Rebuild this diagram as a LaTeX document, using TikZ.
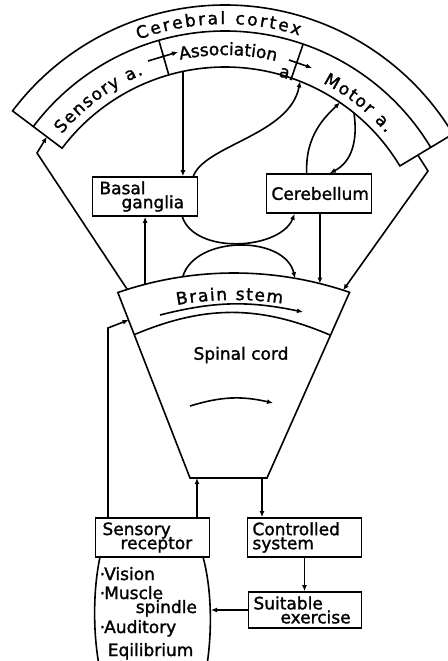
\documentclass[tikz,border=0pt]{standalone}
\usepackage{fontspec}
\setmainfont{DejaVu Sans}[FakeBold=1.5]
\usetikzlibrary{arrows.meta,calc,decorations.text}
\newcommand{\labfont}{\fontsize{17}{14}\selectfont\lineskiplimit=-20pt\relax}
\newcommand{\arcfont}{\fontsize{17}{14}\selectfont}
\tikzset{
  blk/.style={draw, inner xsep=5pt, inner ysep=0pt, minimum height=39pt, align=left, font=\labfont},
  conn/.style={-{Latex[length=6pt,width=5pt]}},
  curvtext/.style={decorate, decoration={text along path, text align={fit to path}, text={#1}}},
  item/.style={anchor=base west, inner sep=0pt, font=\labfont}
}

\begin{document}
\begin{tikzpicture}[x=1pt,y=1pt,line width=1.6pt]
\useasboundingbox (0,0) rectangle (447,-661);
% cerebral cortex
\coordinate (cc) at (225,-271);
\draw ($(cc)+(143:266)$) arc[start angle=143,end angle=31,radius=266]
  -- ($(cc)+(31:204)$) arc[start angle=31,end angle=143,radius=204] -- cycle;
\draw ($(cc)+(143:240)$) arc[start angle=143,end angle=31,radius=240];
\draw ($(cc)+(106:204)$) -- ($(cc)+(106:240)$);
\draw ($(cc)+(71:204)$) -- ($(cc)+(71:240)$);
\path[curvtext={|\arcfont|Cerebral cortex}] ($(cc)+(110.5:247)$) arc[start angle=110.5,end angle=72.5,radius=247];
\path[curvtext={|\arcfont|Sensory a.}] ($(cc)+(140:213)$) arc[start angle=140,end angle=112.5,radius=213];
\path[curvtext={|\arcfont|Association}] ($(cc)+(102:216)$) arc[start angle=102,end angle=77,radius=216];
\path[curvtext={|\arcfont|Motor a.}] ($(cc)+(62.5:212)$) arc[start angle=62.5,end angle=40.5,radius=212];
\node[font=\labfont,rotate=-17,inner sep=0pt] (asa) at (287,-74) {a.};
\coordinate (sa1) at (148,-61);
\coordinate (sa2) at (178,-52);
\coordinate (ma1) at (289,-60);
\coordinate (ma2) at (312,-68);
\draw[conn] (sa1) -- (sa2);
\draw[conn] (ma1) -- (ma2);
\coordinate (assocout) at ($(cc)+(101.9:204)$);
\coordinate (motorin) at ($(cc)+(68.4:204)$);
\coordinate (motorin2) at ($(cc)+(55.7:204)$);
\coordinate (motorout) at ($(cc)+(50.8:204)$);
\coordinate (sensin) at ($(cc)+(143:223)$);
\coordinate (motorend) at ($(cc)+(31:225)$);
% brain stem and spinal cord
\coordinate (bc) at (234,-628);
\coordinate (bsl) at ($(bc)+(109.1:355)$);
\coordinate (bsr) at ($(bc)+(71:355)$);
\coordinate (spl) at (190,-478);
\coordinate (spr) at (267,-478);
\draw (bsl) arc[start angle=109.1,end angle=71,radius=355] -- (spr) -- (spl) -- cycle;
\coordinate (stl) at ($(bsl)!0.227!(spl)$);
\coordinate (str) at ($(bsr)!0.231!(spr)$);
\draw (stl) to[bend left=23] (str);
\path[curvtext={|\arcfont|Brain stem}] ($(bc)+(100:328)$) arc[start angle=100,end angle=81.5,radius=328];
\node[font=\labfont] (spinal) at (241,-355) {Spinal cord};
\coordinate (bsa1) at (160,-315);
\coordinate (bsa2) at (303,-312);
\draw[conn] (bsa1) to[bend left=13] (bsa2);
\coordinate (spa1) at (190,-406);
\coordinate (spa2) at (273,-403);
\draw[conn] (spa1) to[bend left=15] (spa2);
\coordinate (btsens) at ($(bc)+(107.5:355)$);
\coordinate (btbas) at ($(bc)+(104.5:355)$);
\coordinate (bthl) at ($(bc)+(98.3:355)$);
\coordinate (bthr) at ($(bc)+(80.1:355)$);
\coordinate (btcer) at ($(bc)+(76:355)$);
\coordinate (btmot) at ($(bc)+(72.1:355)$);
\coordinate (sside) at ($(bsl)!0.148!(spl)$);
\coordinate (spinin) at (197,-478);
\coordinate (spinout) at (262,-478);
% boxes
\node[blk,text width=95pt] (basal) at (145,-196.5) {\hspace*{2pt}Basal\\\hspace*{24pt}ganglia};
\node[blk,text width=95pt,align=center] (cereb) at (319,-193.5) {Cerebellum};
\node[blk,text width=104pt] (srec) at (152.5,-537.5) {\hspace*{2pt}Sensory\\\hspace*{20pt}receptor};
\node[blk,text width=104pt] (ctrl) at (304.5,-537.5) {Controlled\\system};
\node[blk,text width=103pt,minimum height=36pt] (suit) at (305,-610) {Suitable\\\hspace*{27pt}exercise};
% receptor list
\coordinate (lc1) at (100,-557);
\coordinate (lc2) at (99,-665);
\coordinate (rc1) at (203,-557);
\coordinate (rc2) at (207,-665);
\draw (lc1) .. controls (93,-590) and (93,-632) .. (lc2);
\draw (rc1) .. controls (212,-590) and (212,-632) .. (rc2);
\coordinate (listr) at (211,-610);
\node[item] (vis) at (99,-580) {·\kern-1pt Vision};
\node[item] (mus) at (99,-599) {·\kern-1pt Muscle};
\node[item] (spi) at (135,-613) {spindle};
\node[item] (aud) at (99,-633) {·\kern-1pt Auditory};
\node[item] (eqi) at (107,-656) {Eqilibrium};
% connectors
\coordinate (lbend) at (37,-153);
\coordinate (rbend) at (428,-171);
\coordinate (slbend) at (108,-328);
\draw[conn] (btsens) -- (lbend) -- (sensin);
\draw[conn] (motorend) -- (rbend) -- (btmot);
\draw[conn] (assocout) -- (assocout |- basal.north);
\draw[conn] ($(basal.north east)+(-5,0)$) .. controls (205,-145) and (290,-135) .. (motorin);
\draw[conn] ($(cereb.north west)+(41,0)$) .. controls (305,-135) and (326,-116) .. (motorin2);
\draw[conn] (motorout) .. controls (358,-140) and (352,-162) .. ($(cereb.north west)+(64,0)$);
\draw[conn] ($(basal.south east)+(-16,0)$) .. controls (195,-255) and (280,-250) .. ($(cereb.south west)+(29,0)$);
\draw[conn] (bthl) .. controls (195,-235) and (285,-235) .. (bthr);
\draw[conn] (btbas) -- (btbas |- basal.south);
\draw[conn] (cereb.south -| btcer) -- (btcer);
\draw[conn] (srec.north -| slbend) -- (slbend) -- (sside);
\draw[conn] (srec.north -| spinin) -- (spinin);
\draw[conn] (spinout) -- (spinout |- ctrl.north);
\draw[conn] (ctrl.south) -- (ctrl.south |- suit.north);
\draw[conn] (suit.west) -- (listr);
\end{tikzpicture}
\end{document}
